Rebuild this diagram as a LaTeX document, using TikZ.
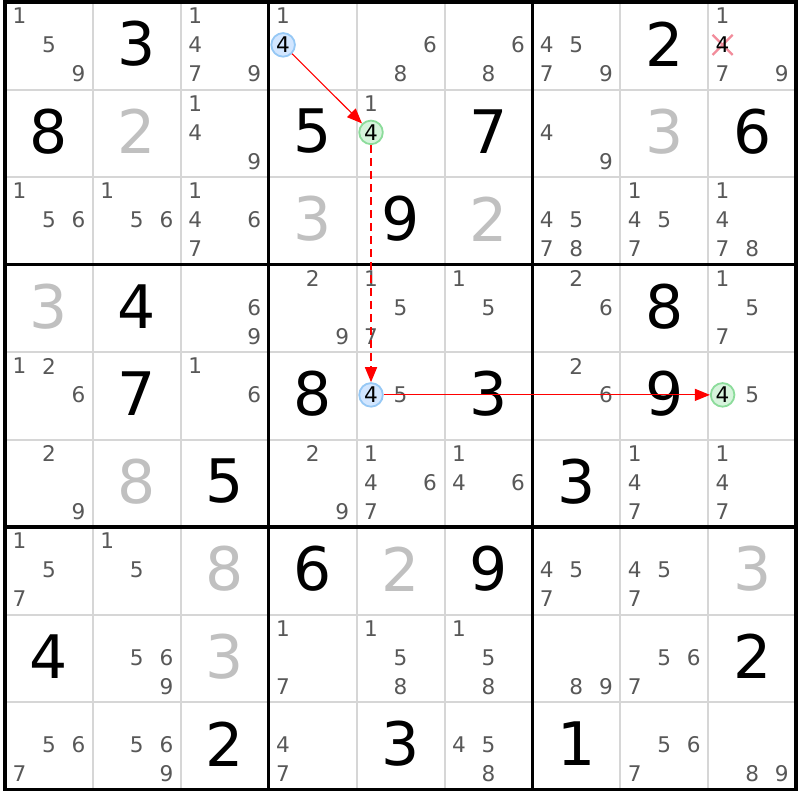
\documentclass[tikz,border=0pt]{standalone}
\usepackage{fontspec}
\setmainfont{DejaVu Sans}
\usepackage{tikz}
\usetikzlibrary{arrows.meta,shapes.misc}

\definecolor{candgray}{RGB}{88,88,88}
\definecolor{solvedgray}{RGB}{192,192,192}
\definecolor{gridgray}{RGB}{214,214,214}
\definecolor{linkred}{RGB}{255,0,0}
\definecolor{bluefill}{RGB}{210,230,255}
\definecolor{blueline}{RGB}{150,200,245}
\definecolor{greenfill}{RGB}{214,244,220}
\definecolor{greenline}{RGB}{140,220,155}
\definecolor{crosspink}{RGB}{242,140,155}

\begin{document}
\begin{tikzpicture}[x=43.95pt, y=-43.75pt,
  cellline/.style={draw=gridgray, line width=1pt},
  boxline/.style={draw=black, line width=1.65pt},
  given/.style={font=\fontsize{30}{30}\selectfont, text=black, inner sep=0pt},
  solved/.style={given, text=solvedgray},
  cand/.style={font=\fontsize{10.8}{12}\selectfont, text=candgray, inner sep=0pt},
  startcand/.style={cand, text=black, circle, draw=blueline, fill=bluefill,
    line width=0.9pt, minimum size=11.8pt},
  endcand/.style={startcand, draw=greenline, fill=greenfill},
  link/.style={draw=linkred, line width=0.55pt, -{Triangle[length=7.5pt,width=6pt]}},
  dashlink/.style={link, line width=0.8pt, dash pattern=on 4pt off 2.5pt}
]
  \useasboundingbox (-2.5pt,1pt) rectangle (397.5pt,-399pt);

  % Grid
  \foreach \i in {1,2,4,5,7,8} {
    \draw[cellline] (\i,0) -- (\i,9);
    \draw[cellline] (0,\i) -- (9,\i);
  }
  \foreach \i in {3,6} {
    \draw[boxline] (\i,0) -- (\i,9);
    \draw[boxline] (0,\i) -- (9,\i);
  }
  \draw[boxline] (0,0) rectangle (9,9);

  % Define nodes
  \foreach \r/\c/\d in {1/2/3, 1/8/2, 2/1/8, 2/4/5, 2/6/7, 2/9/6, 3/5/9,
      4/2/4, 4/8/8, 5/2/7, 5/4/8, 5/6/3, 5/8/9, 6/3/5, 6/7/3,
      7/4/6, 7/6/9, 8/1/4, 8/9/2, 9/3/2, 9/5/3, 9/7/1}
    \node[given] (g-\r-\c) at (\c-0.5,\r-0.52) {\d};
  \foreach \r/\c/\d in {2/2/2, 2/8/3, 3/4/3, 3/6/2, 4/1/3, 6/2/8,
      7/3/8, 7/5/2, 7/9/3, 8/3/3}
    \node[solved] (g-\r-\c) at (\c-0.5,\r-0.52) {\d};

  \foreach \r/\c/\ds in {1/1/{1,5,9}, 1/3/{1,4,7,9}, 1/4/{1}, 1/5/{6,8},
      1/6/{6,8}, 1/7/{4,5,7,9}, 1/9/{1,7,9},
      2/3/{1,4,9}, 2/5/{1}, 2/7/{4,9},
      3/1/{1,5,6}, 3/2/{1,5,6}, 3/3/{1,4,6,7}, 3/7/{4,5,7,8},
      3/8/{1,4,5,7}, 3/9/{1,4,7,8},
      4/3/{6,9}, 4/4/{2,9}, 4/5/{1,5,7}, 4/6/{1,5}, 4/7/{2,6}, 4/9/{1,5,7},
      5/1/{1,2,6}, 5/3/{1,6}, 5/5/{5}, 5/7/{2,6}, 5/9/{5},
      6/1/{2,9}, 6/4/{2,9}, 6/5/{1,4,6,7}, 6/6/{1,4,6}, 6/8/{1,4,7},
      6/9/{1,4,7},
      7/1/{1,5,7}, 7/2/{1,5}, 7/7/{4,5,7}, 7/8/{4,5,7},
      8/2/{5,6,9}, 8/4/{1,7}, 8/5/{1,5,8}, 8/6/{1,5,8}, 8/7/{8,9},
      8/8/{5,6,7},
      9/1/{5,6,7}, 9/2/{5,6,9}, 9/4/{4,7}, 9/6/{4,5,8}, 9/8/{5,6,7},
      9/9/{8,9}}
    \foreach \d in \ds {
      \pgfmathsetmacro\cx{\c-0.5+(mod(\d-1,3)-1)*0.336}
      \pgfmathsetmacro\cy{\r-0.51+(int((\d-1)/3)-1)*0.33}
      \node[cand] (c-\r-\c-\d) at (\cx,\cy) {\d};
    }

  % Chain of 4s
  \node[startcand] (s-1-4) at (3.164,0.49) {4};
  \node[endcand]   (e-2-5) at (4.164,1.49) {4};
  \node[startcand] (s-5-5) at (4.164,4.49) {4};
  \node[endcand]   (e-5-9) at (8.164,4.49) {4};

  % Eliminated 4
  \node[draw=crosspink, cross out, line width=1.1pt, minimum size=9pt,
    inner sep=0pt] (x-1-9) at (8.164,0.49) {};
  \node[cand, text=black] (c-1-9-4) at (x-1-9) {4};

  % Connect the nodes
  \draw[link] (s-1-4) -- (e-2-5);
  \draw[dashlink] (e-2-5) -- (s-5-5);
  \draw[link] (s-5-5) -- (e-5-9);

\end{tikzpicture}
\end{document}
